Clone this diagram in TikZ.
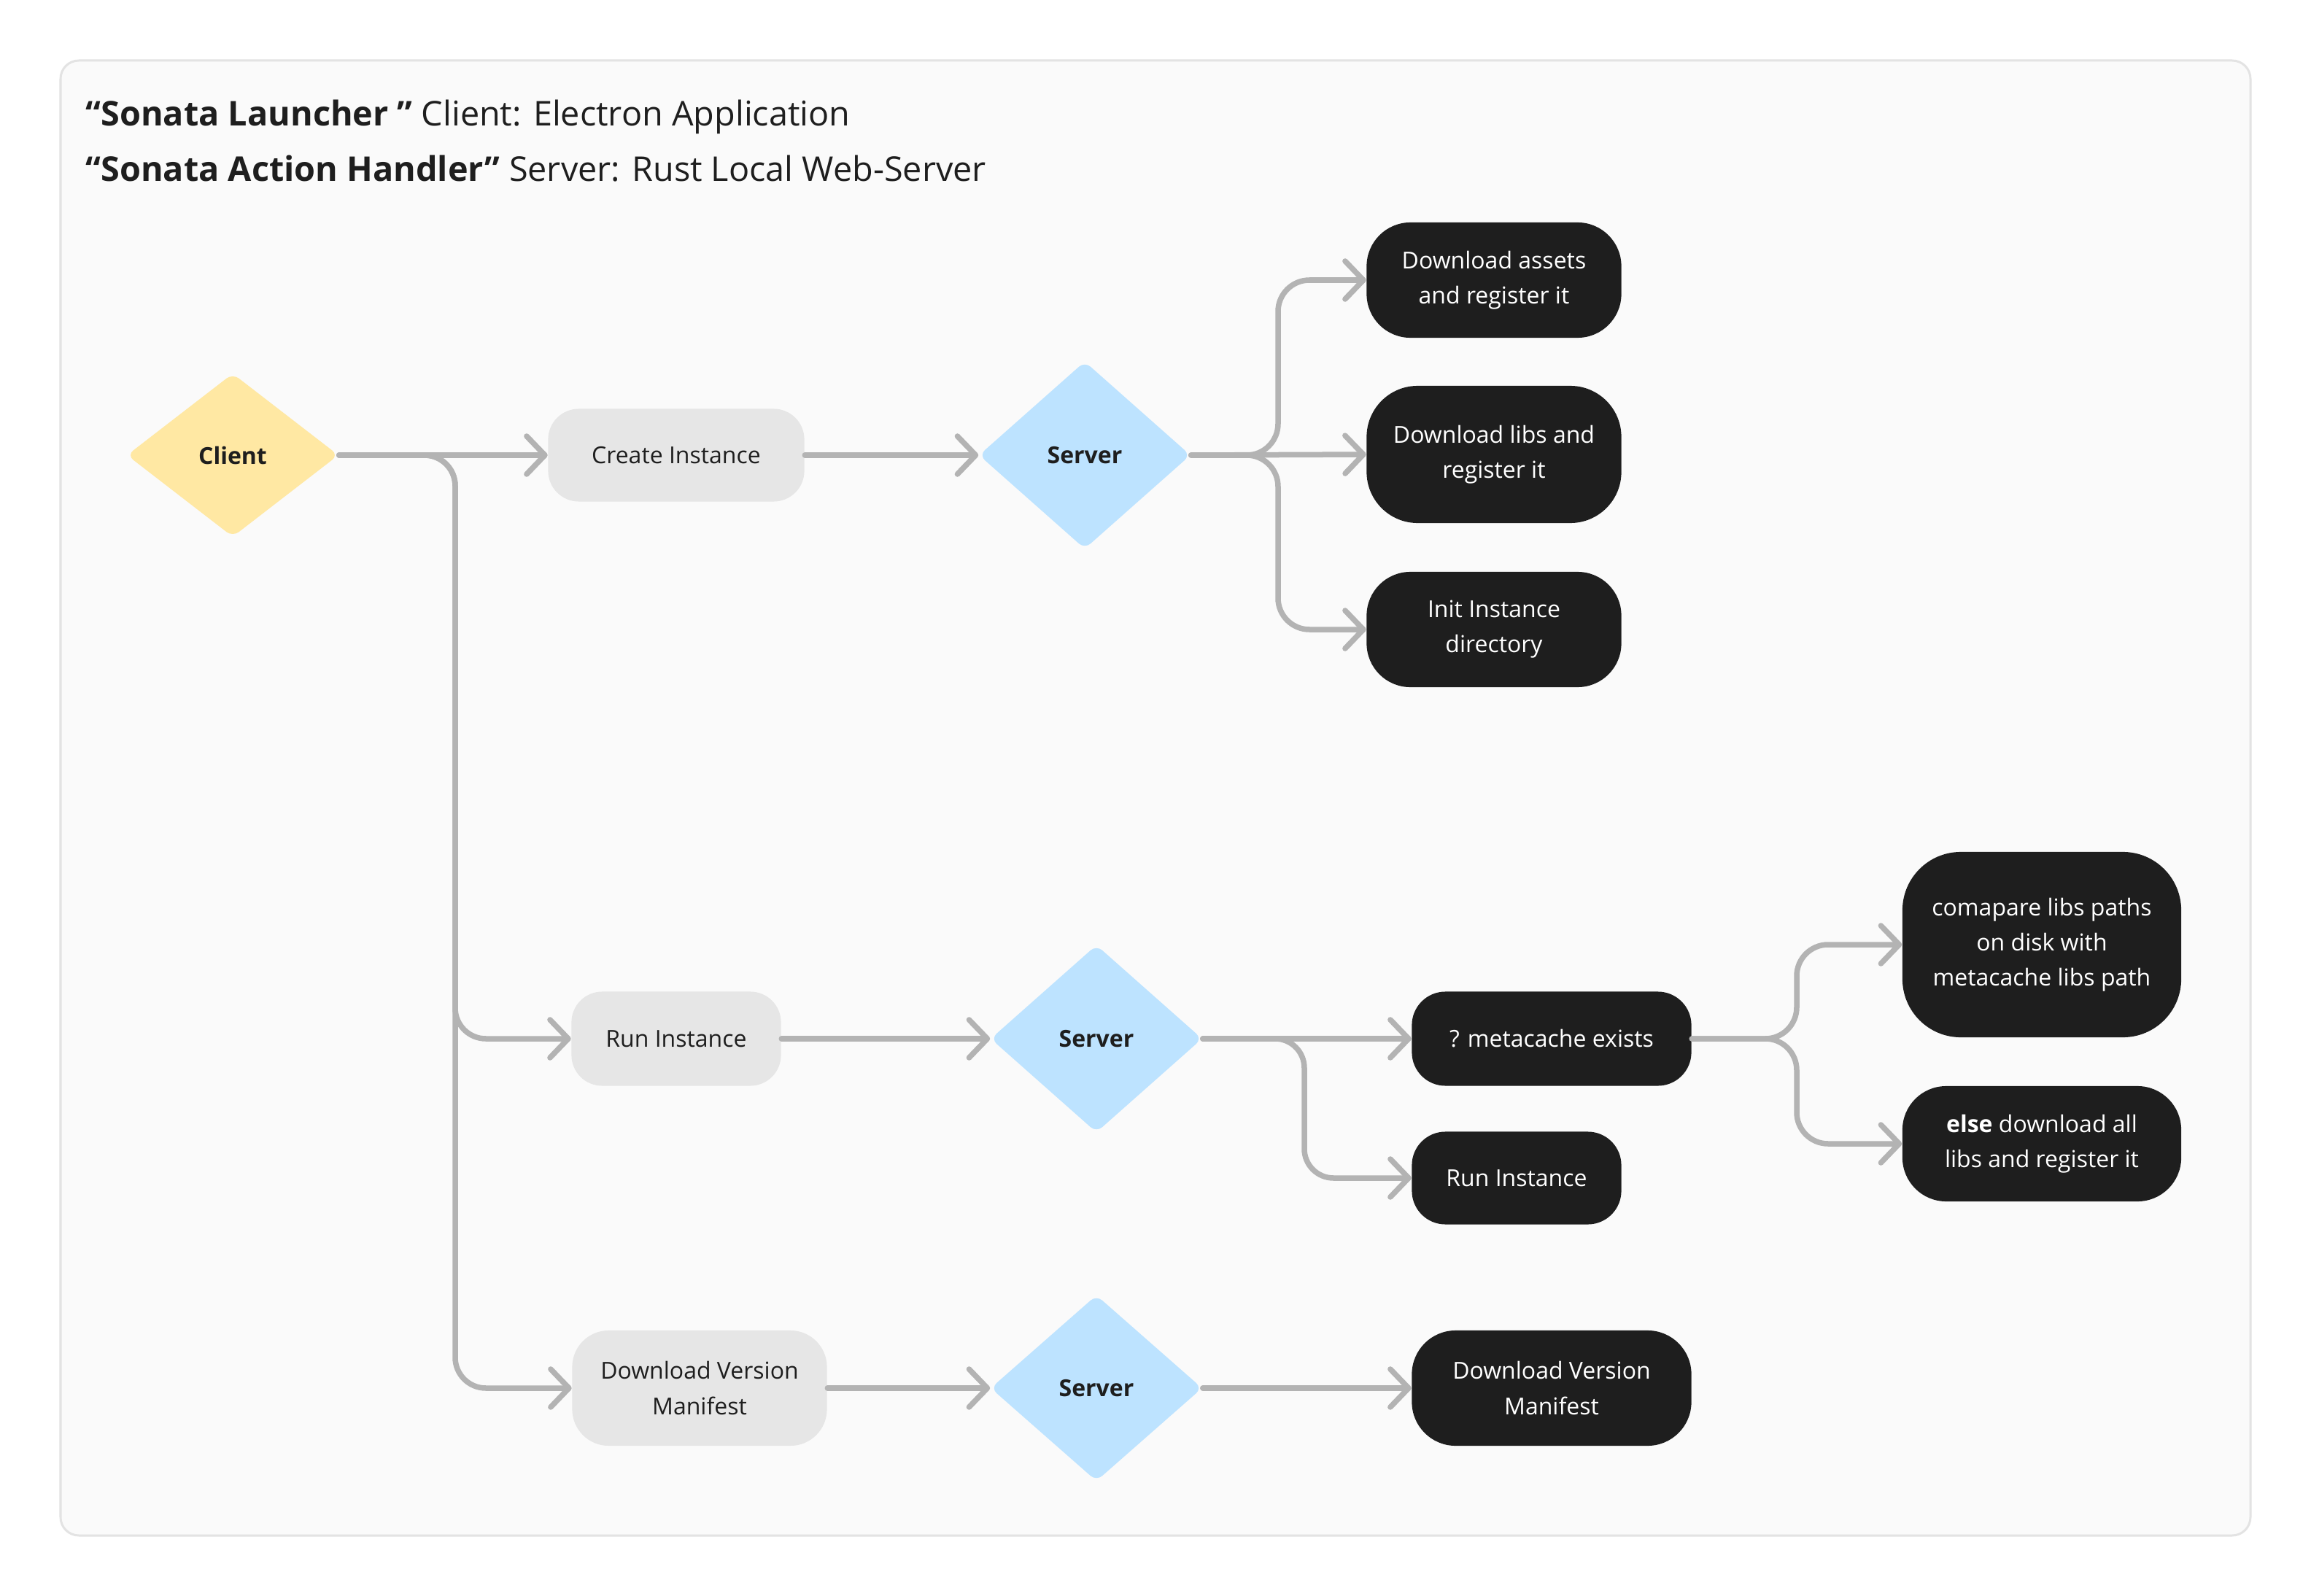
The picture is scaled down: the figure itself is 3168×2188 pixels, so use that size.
\documentclass[tikz,border=0pt]{standalone}
\usepackage{fontspec}
\setmainfont{Open Sans}
\usetikzlibrary{shapes.geometric,arrows.meta}
\definecolor{bgc}{HTML}{FAFAFA}
\definecolor{framec}{HTML}{E3E3E3}
\definecolor{darkc}{HTML}{1E1E1E}
\definecolor{grayc}{HTML}{E6E6E6}
\definecolor{txtc}{HTML}{1E1E1E}
\definecolor{yellowc}{HTML}{FFE8A3}
\definecolor{bluec}{HTML}{BDE3FF}
\definecolor{linec}{HTML}{B3B3B3}
\newcommand{\nodefont}{\fontsize{9.1pt}{13.7pt}\selectfont}
\newcommand{\titlefont}{\fontsize{13.3pt}{16pt}\selectfont}
\begin{document}
\begin{tikzpicture}[x=0.01cm,y=-0.01cm,
  darkbox/.style={rectangle, rounded corners=0.6cm, fill=darkc, text=white, align=center, font=\nodefont, inner sep=0pt},
  graybox/.style={rectangle, rounded corners=0.42cm, fill=grayc, text=txtc, align=center, font=\nodefont, inner sep=0pt},
  diam/.style={diamond, rounded corners=3pt, inner sep=0pt, text=txtc, font=\nodefont\bfseries, minimum width=2.9cm},
  conn/.style={draw=linec, line width=0.075cm, line cap=round, -{Straight Barb[length=0.25cm, width=0.52cm, round]}},
  titletext/.style={anchor=west, inner sep=0pt, text=txtc, font=\titlefont}
]
\useasboundingbox (0,0) rectangle (3168,2188);
\fill[white] (0,0) rectangle (3168,2188);
\draw[framec, line width=0.03cm, fill=bgc, rounded corners=0.25cm] (83,83) rectangle (3085,2105);

\node[titletext] (t1) at (117,160) {\textbf{“Sonata Launcher ”} Client: Electron Application};
\node[titletext] (t2) at (117,231) {\textbf{“Sonata Action Handler”} Server: Rust Local Web-Server};

% nodes
\node[diam, fill=yellowc, minimum height=2.24cm] (client) at (319,624) {Client};
\node[graybox, minimum width=3.51cm, minimum height=1.27cm] (create) at (927,624) {Create Instance};
\node[diam, fill=bluec, minimum height=2.57cm] (s1) at (1487,624) {Server};
\node[darkbox, minimum width=3.49cm, minimum height=1.58cm] (assets) at (2048,384) {Download assets\\and register it};
\node[darkbox, rounded corners=0.7cm, minimum width=3.49cm, minimum height=1.88cm] (libs) at (2048,623) {Download libs and\\register it};
\node[darkbox, minimum width=3.49cm, minimum height=1.58cm] (init) at (2048,863) {Init Instance\\directory};

\node[graybox, minimum width=2.87cm, minimum height=1.29cm] (run) at (927,1424) {Run Instance};
\node[diam, fill=bluec, minimum height=2.57cm] (s2) at (1503,1424) {Server};
\node[darkbox, rounded corners=0.46cm, minimum width=3.83cm, minimum height=1.29cm] (meta) at (2127,1424) {? metacache exists};
\node[darkbox, rounded corners=0.46cm, minimum width=2.87cm, minimum height=1.27cm] (run2) at (2079,1615) {Run Instance};
\node[darkbox, rounded corners=0.8cm, minimum width=3.82cm, minimum height=2.54cm] (cmp) at (2799,1295) {comapare libs paths\\on disk with\\metacache libs path};
\node[darkbox, minimum width=3.82cm, minimum height=1.58cm] (else) at (2799,1568) {\textbf{else} download all\\libs and register it};

\node[graybox, rounded corners=0.5cm, minimum width=3.49cm, minimum height=1.58cm] (dvm) at (959,1903) {Download Version\\Manifest};
\node[diam, fill=bluec, minimum height=2.55cm] (s3) at (1503,1903) {Server};
\node[darkbox, minimum width=3.83cm, minimum height=1.58cm] (dvm2) at (2127,1903) {Download Version\\Manifest};

% junctions
\coordinate (j1) at (624,624);
\coordinate (j2) at (1752,624);
\coordinate (j3) at (1788,1424);
\coordinate (j4) at (2463,1424);

% connectors
\draw[conn] (client.east) -- (create.west);
\draw[conn, rounded corners=0.42cm] (client.east) -- (j1) |- (run.west);
\draw[conn, rounded corners=0.42cm] (client.east) -- (j1) |- (dvm.west);
\draw[conn] (create.east) -- (s1.west);
\draw[conn] (s1.east) -- (libs.west);
\draw[conn, rounded corners=0.43cm] (s1.east) -- (j2) |- (assets.west);
\draw[conn, rounded corners=0.43cm] (s1.east) -- (j2) |- (init.west);
\draw[conn] (run.east) -- (s2.west);
\draw[conn] (s2.east) -- (meta.west);
\draw[conn, rounded corners=0.4cm] (s2.east) -- (j3) |- (run2.west);
\draw[conn, rounded corners=0.43cm] (meta.east) -- (j4) |- (cmp.west);
\draw[conn, rounded corners=0.43cm] (meta.east) -- (j4) |- (else.west);
\draw[conn] (dvm.east) -- (s3.west);
\draw[conn] (s3.east) -- (dvm2.west);
\end{tikzpicture}
\end{document}
